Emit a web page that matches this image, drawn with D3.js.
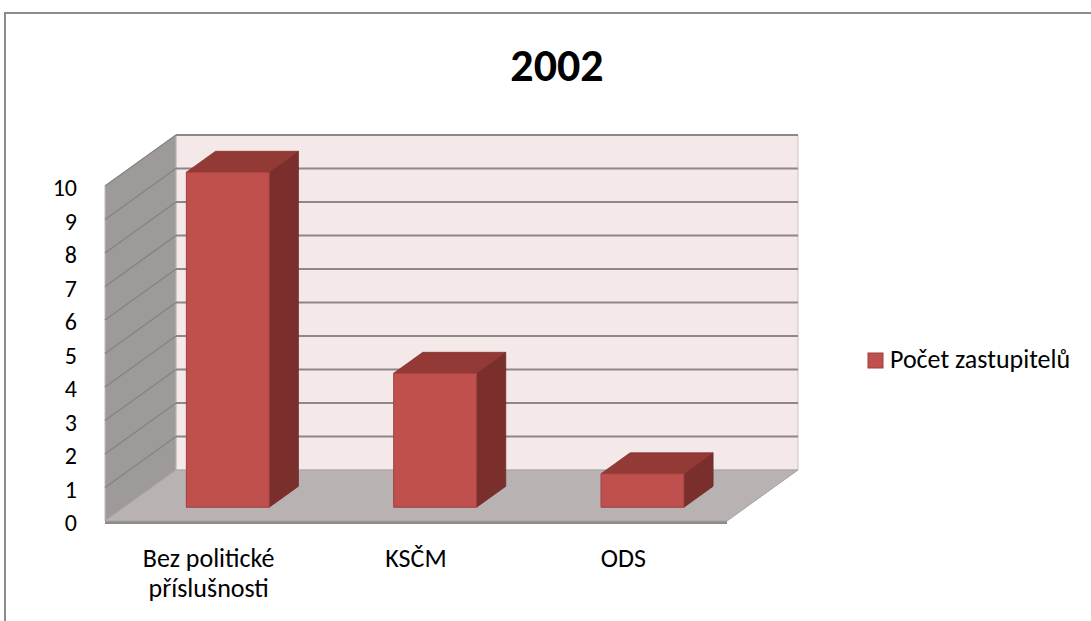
<!DOCTYPE html>
<html>
<head>
<meta charset="utf-8">
<script src="https://cdn.jsdelivr.net/npm/d3@7"></script>
<style>
  body { margin: 0; background: #fff; }
  text { font-family: Carlito, Lato, sans-serif; fill: #000; }
</style>
</head>
<body>
<svg width="1091" height="621"></svg>
<script>
const title = '2002';
const categories = ['Bez politické|příslušnosti', 'KSČM', 'ODS'];
const values = [10, 4, 1];
const seriesName = 'Počet zastupitelů';
const yTicks = [0, 1, 2, 3, 4, 5, 6, 7, 8, 9, 10];

const svg = d3.select('svg');

// chart frame
svg.append('rect')
    .attr('x', 5).attr('y', 13)
    .attr('width', 1120).attr('height', 700)
    .attr('fill', '#fff')
    .attr('stroke', '#8c8c8c')
    .attr('stroke-width', 2);

// front plane scales, depth is a fixed oblique offset
const x = d3.scaleBand()
    .domain(categories)
    .range([105, 727])
    .paddingInner(0.6)
    .paddingOuter(0.3);
const y = d3.scaleLinear().domain([0, 10]).range([521, 186]);
const depth = { dx: 71, dy: -51 };
const P = (px, v, d) => [px + d * depth.dx, y(v) + d * depth.dy];
const poly = pts => 'M' + pts.map(p => p.join(',')).join('L') + 'Z';

const [x0, x1] = x.range();
const g = svg.append('g');

// back wall
g.append('path')
    .attr('d', poly([P(x0, 0, 1), P(x0, 10, 1), P(x1, 10, 1), P(x1, 0, 1)]))
    .attr('fill', '#f4e8e8')
    .attr('stroke', '#c9c4c4');

// left wall
g.append('path')
    .attr('d', poly([P(x0, 0, 0), P(x0, 10, 0), P(x0, 10, 1), P(x0, 0, 1)]))
    .attr('fill', '#9e9a9a')
    .attr('stroke', '#bdb9b9');

// floor, with a thin front edge
g.append('path')
    .attr('d', poly([P(x0, 0, 0), [x0, y(0) + 3], [x1, y(0) + 3], P(x1, 0, 0)]))
    .attr('fill', '#8f8b8b');
g.append('path')
    .attr('d', poly([P(x0, 0, 0), P(x0, 0, 1), P(x1, 0, 1), P(x1, 0, 0)]))
    .attr('fill', '#b8b2b2')
    .attr('stroke', '#a8a3a3');

// gridlines on left and back walls
const grid = yTicks.filter(v => v > 0);
g.selectAll('.grid-side')
    .data(grid)
    .join('line')
        .attr('class', 'grid-side')
        .attr('x1', v => P(x0, v, 0)[0]).attr('y1', v => P(x0, v, 0)[1])
        .attr('x2', v => P(x0, v, 1)[0]).attr('y2', v => P(x0, v, 1)[1])
        .attr('stroke', '#878383')
        .attr('stroke-width', 1.5);
g.selectAll('.grid-back')
    .data(grid)
    .join('line')
        .attr('class', 'grid-back')
        .attr('x1', v => P(x0, v, 1)[0]).attr('y1', v => P(x0, v, 1)[1])
        .attr('x2', v => P(x1, v, 1)[0]).attr('y2', v => P(x1, v, 1)[1])
        .attr('stroke', '#8c8888')
        .attr('stroke-width', 2);

// bars
const d0 = 0.27, d1 = 0.68;
const bars = g.selectAll('.bar')
    .data(categories.map((c, i) => ({ c, v: values[i] })))
    .join('g')
        .attr('class', 'bar');

bars.append('path')
    .attr('d', d => {
        const a = x(d.c), b = a + x.bandwidth();
        return poly([P(b, 0, d0), P(b, d.v, d0), P(b, d.v, d1), P(b, 0, d1)]);
    })
    .attr('fill', '#7a2f2d')
    .attr('stroke', '#6e2a28')
    .attr('stroke-width', 0.8);

bars.append('path')
    .attr('d', d => {
        const a = x(d.c), b = a + x.bandwidth();
        return poly([P(a, d.v, d0), P(a, d.v, d1), P(b, d.v, d1), P(b, d.v, d0)]);
    })
    .attr('fill', '#933936')
    .attr('stroke', '#843331')
    .attr('stroke-width', 0.8);

bars.append('path')
    .attr('d', d => {
        const a = x(d.c), b = a + x.bandwidth();
        return poly([P(a, 0, d0), P(a, d.v, d0), P(b, d.v, d0), P(b, 0, d0)]);
    })
    .attr('fill', '#c0504d')
    .attr('stroke', '#9e3f3c')
    .attr('stroke-width', 1);

// y labels on the front edge
svg.append('g')
    .selectAll('text')
    .data(yTicks)
    .join('text')
        .attr('x', 77)
        .attr('y', v => y(v) + 2)
        .attr('dy', '0.35em')
        .attr('text-anchor', 'end')
        .attr('font-size', 24)
        .text(v => v);

// category labels, centred under each band
const cat = svg.append('g')
    .selectAll('text')
    .data(categories)
    .join('text')
        .attr('text-anchor', 'middle')
        .attr('font-size', 26)
        .attr('y', 567);
cat.selectAll('tspan')
    .data(d => d.split('|').map(t => ({ t, x: x(d) + x.bandwidth() / 2 })))
    .join('tspan')
        .attr('x', d => d.x)
        .attr('dy', (d, i) => i ? 30 : 0)
        .text(d => d.t);

// title
svg.append('text')
    .attr('x', 557)
    .attr('y', 81)
    .attr('text-anchor', 'middle')
    .attr('font-size', 46)
    .attr('font-weight', 'bold')
    .text(title);

// legend
const legend = svg.append('g').attr('transform', 'translate(868,353)');
legend.append('rect')
    .attr('width', 15).attr('height', 15)
    .attr('fill', '#c0504d')
    .attr('stroke', '#9e3f3c');
legend.append('text')
    .attr('x', 22).attr('y', 15)
    .attr('font-size', 26)
    .text(seriesName);
</script>
</body>
</html>
